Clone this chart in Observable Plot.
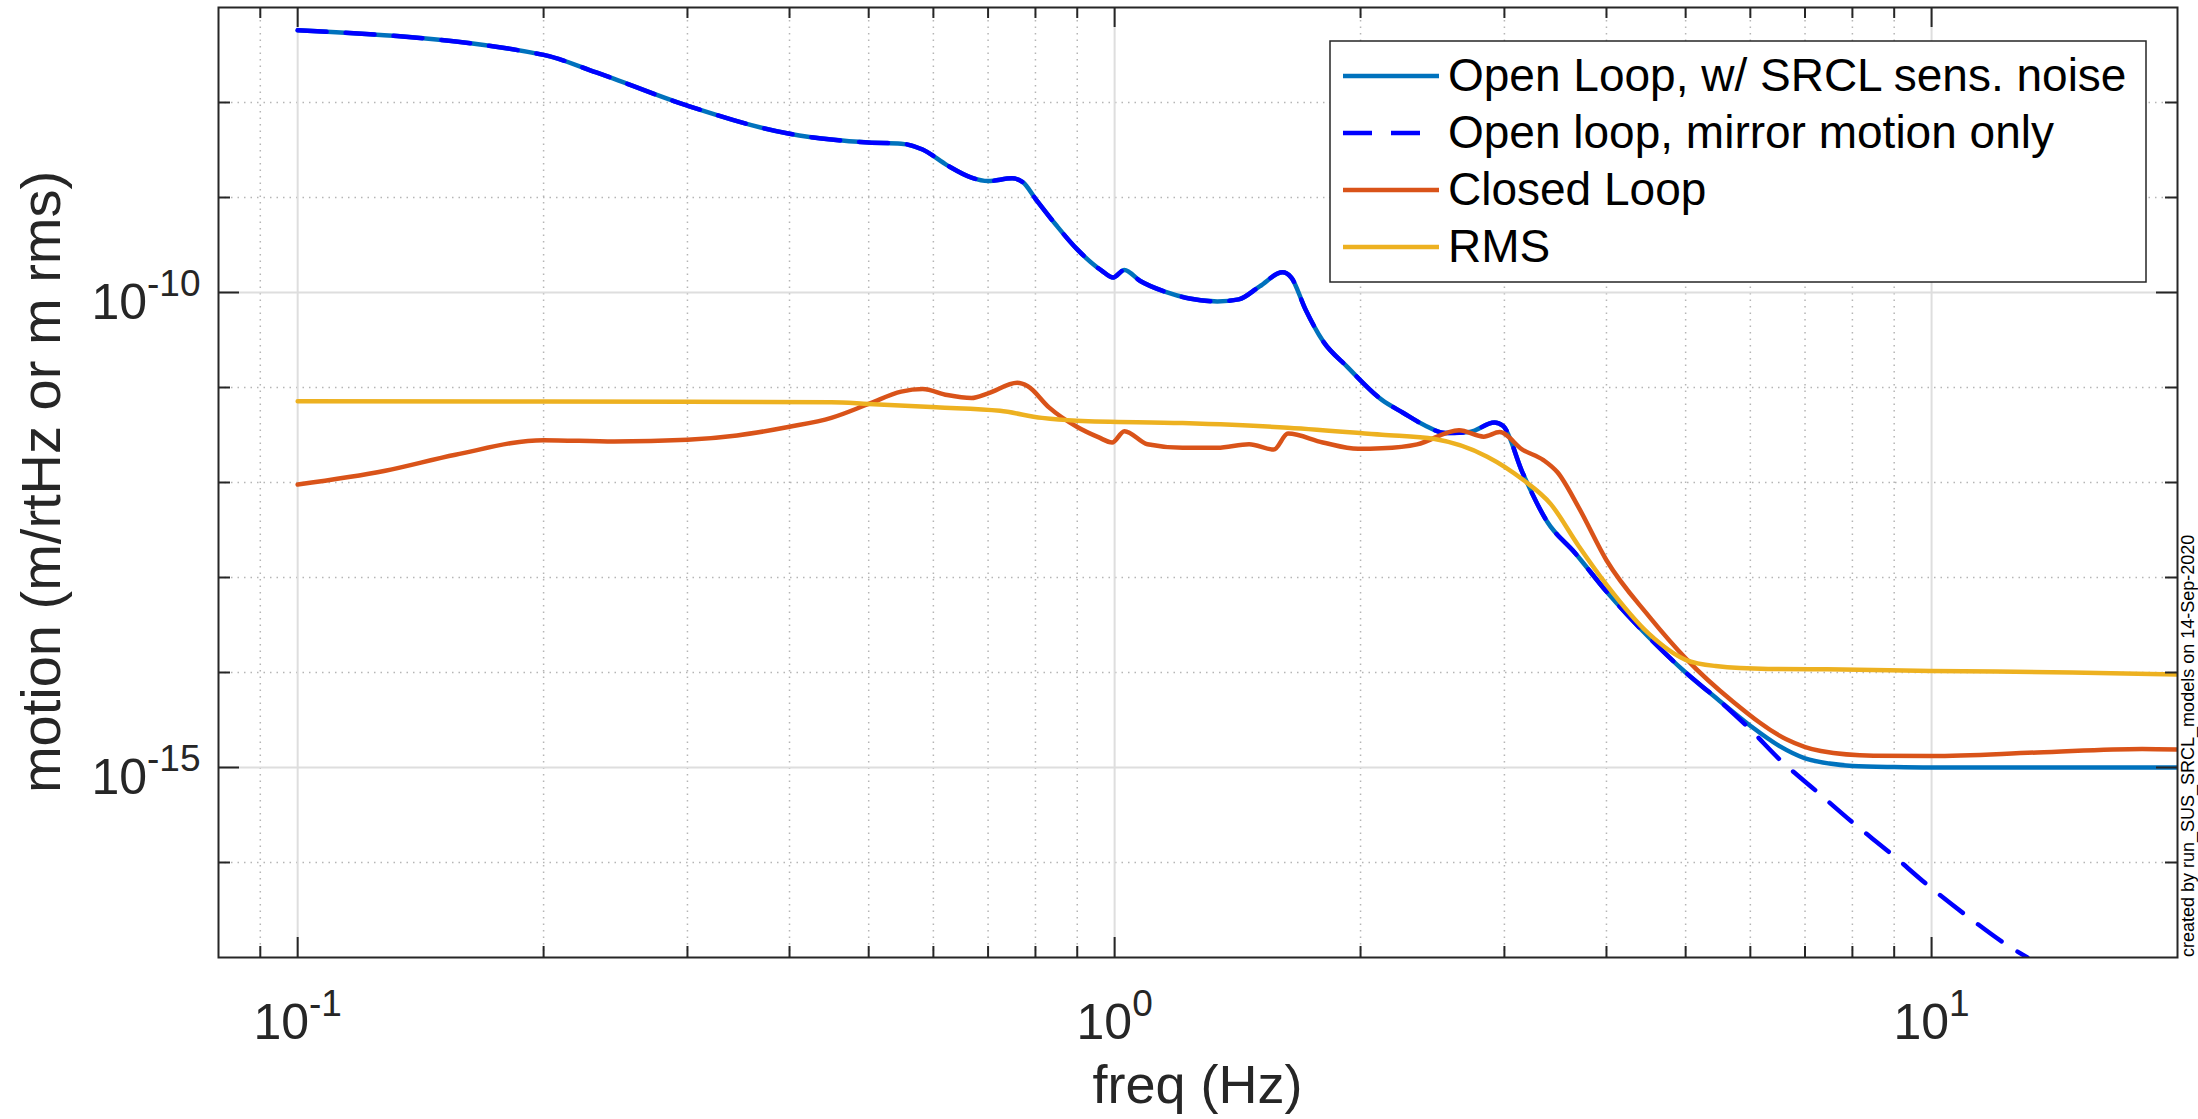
<!DOCTYPE html>
<html>
<head>
<meta charset="utf-8">
<script src="https://cdn.jsdelivr.net/npm/d3@7"></script>
<script src="https://cdn.jsdelivr.net/npm/@observablehq/plot@0.6"></script>
<style>
  html, body { margin: 0; padding: 0; background: #fff; }
  #wrap { position: relative; width: 2198px; height: 1119px; overflow: hidden; }
</style>
</head>
<body>
<div id="wrap"></div>
<script>
// ---------------- DATA ----------------
const seriesNames = [
  "Open Loop, w/ SRCL sens. noise",
  "Open loop, mirror motion only",
  "Closed Loop",
  "RMS"
];

// Open loop, with SRCL sensing noise (solid)
const freqOpenSRCL = [0.1, 0.2, 0.232, 0.3, 0.4, 0.45, 0.5, 0.548, 0.582, 0.624, 0.668, 0.7, 0.749, 0.772, 0.8, 0.848, 0.9, 0.964, 0.996, 1.028, 1.075, 1.152, 1.235, 1.336, 1.419, 1.505, 1.605, 1.645, 1.712, 1.798, 1.928, 2.124, 2.254, 2.392, 2.54, 2.72, 2.916, 2.99, 3.156, 3.383, 3.661, 4.0, 4.507, 5.0, 5.494, 6.0, 6.5, 7.0, 7.5, 8.0, 9.0, 10, 15, 20];
const openLoopSRCL = [5.75e-8, 3.17e-8, 2.07e-8, 9.25e-9, 4.69e-9, 4.07e-9, 3.79e-9, 3.69e-9, 3.20e-9, 2.18e-9, 1.62e-9, 1.49e-9, 1.59e-9, 1.45e-9, 9.70e-10, 5.13e-10, 2.84e-10, 1.70e-10, 1.44e-10, 1.73e-10, 1.32e-10, 1.02e-10, 8.63e-11, 8.05e-11, 8.47e-11, 1.16e-10, 1.63e-10, 1.44e-10, 6.67e-11, 3.10e-11, 1.64e-11, 7.41e-12, 5.43e-12, 4.03e-12, 3.31e-12, 3.40e-12, 4.28e-12, 3.93e-12, 1.28e-12, 3.89e-13, 1.81e-13, 7.11e-14, 2.35e-14, 1.00e-14, 5.08e-15, 2.75e-15, 1.70e-15, 1.25e-15, 1.10e-15, 1.04e-15, 1.01e-15, 1.0e-15, 1.0e-15, 1.0e-15];

// Open loop, mirror motion only (dashed)
const freqMirror = [0.1, 0.2, 0.232, 0.3, 0.4, 0.45, 0.5, 0.548, 0.582, 0.624, 0.668, 0.7, 0.749, 0.772, 0.8, 0.848, 0.9, 0.964, 0.996, 1.028, 1.075, 1.152, 1.235, 1.336, 1.419, 1.505, 1.605, 1.645, 1.712, 1.798, 1.928, 2.124, 2.254, 2.392, 2.54, 2.72, 2.916, 2.99, 3.156, 3.383, 3.661, 4.0, 4.507, 5.0, 5.494, 6.0, 6.52, 7.24, 8.02, 8.9, 9.92, 11.11, 12.39, 13.1];
const mirrorMotion = [5.75e-8, 3.17e-8, 2.07e-8, 9.25e-9, 4.69e-9, 4.07e-9, 3.79e-9, 3.69e-9, 3.20e-9, 2.18e-9, 1.62e-9, 1.49e-9, 1.59e-9, 1.45e-9, 9.70e-10, 5.13e-10, 2.84e-10, 1.70e-10, 1.44e-10, 1.73e-10, 1.32e-10, 1.02e-10, 8.63e-11, 8.05e-11, 8.47e-11, 1.16e-10, 1.63e-10, 1.44e-10, 6.67e-11, 3.10e-11, 1.64e-11, 7.41e-12, 5.43e-12, 4.03e-12, 3.31e-12, 3.40e-12, 4.28e-12, 3.93e-12, 1.28e-12, 3.89e-13, 1.81e-13, 7.11e-14, 2.35e-14, 1.00e-14, 5.08e-15, 2.51e-15, 1.21e-15, 5.56e-16, 2.60e-16, 1.26e-16, 5.66e-17, 2.64e-17, 1.34e-17, 1.0e-17];

// Closed loop
const freqClosed = [0.1, 0.128, 0.156, 0.2, 0.244, 0.3, 0.345, 0.4, 0.45, 0.5, 0.548, 0.582, 0.624, 0.668, 0.7, 0.76, 0.783, 0.831, 0.899, 0.955, 0.993, 1.028, 1.097, 1.211, 1.336, 1.461, 1.566, 1.63, 1.798, 1.986, 2.124, 2.346, 2.64, 2.83, 2.96, 3.156, 3.349, 3.484, 3.698, 4.0, 4.507, 5.0, 5.72, 6.63, 7.32, 8.49, 10, 13.47, 18.1, 20];
const closedLoop = [9.51e-13, 1.33e-12, 1.96e-12, 2.79e-12, 2.70e-12, 2.82e-12, 3.13e-12, 3.86e-12, 4.79e-12, 6.71e-12, 9.06e-12, 9.62e-12, 8.32e-12, 7.76e-12, 8.69e-12, 1.12e-11, 1.03e-11, 6.18e-12, 3.86e-12, 3.00e-12, 2.64e-12, 3.47e-12, 2.53e-12, 2.32e-12, 2.32e-12, 2.53e-12, 2.22e-12, 3.27e-12, 2.64e-12, 2.26e-12, 2.29e-12, 2.52e-12, 3.55e-12, 3.04e-12, 3.40e-12, 2.22e-12, 1.72e-12, 1.28e-12, 5.47e-13, 1.52e-13, 3.92e-14, 1.41e-14, 4.90e-15, 2.00e-15, 1.49e-15, 1.33e-15, 1.32e-15, 1.44e-15, 1.57e-15, 1.55e-15];

// RMS
const freqRMS = [0.1, 0.2, 0.3, 0.45, 0.5, 0.605, 0.724, 0.815, 0.899, 1.211, 1.63, 2.124, 2.465, 2.858, 3.156, 3.417, 3.698, 4.0, 4.507, 5.0, 5.44, 6.31, 7.45, 10, 14.86, 20];
const rmsMotion = [7.18e-12, 7.11e-12, 7.08e-12, 7.00e-12, 6.71e-12, 6.18e-12, 5.68e-12, 4.79e-12, 4.48e-12, 4.22e-12, 3.78e-12, 3.18e-12, 2.87e-12, 1.87e-12, 1.08e-12, 5.96e-13, 2.15e-13, 8.41e-14, 2.56e-14, 1.36e-14, 1.17e-14, 1.09e-14, 1.08e-14, 1.04e-14, 1.00e-14, 9.55e-15];

// Ticks
const xMajorTicks = [0.1, 1, 10];
const xMinorTicks = [0.09, 0.2, 0.3, 0.4, 0.5, 0.6, 0.7, 0.8, 0.9, 2, 3, 4, 5, 6, 7, 8, 9];
const yMajorTicks = [1e-15, 1e-10];
const yMinorTicks = [1e-16, 1e-14, 1e-13, 1e-12, 1e-11, 1e-9, 1e-8];

const xLabel = "freq (Hz)";
const yLabel = "motion (m/rtHz or m rms)";
const note = "created by run_SUS_SRCL_models on 14-Sep-2020";

// ---------------- LAYOUT / STYLE ----------------
const W = 2198, H = 1119;
const mL = 218, mR = 21, mT = 7, mB = 162;
const fw = W - mL - mR, fh = H - mT - mB;
const FONT = '"Liberation Sans", Arial, Helvetica, sans-serif';
const INK = "#262626";
const colors = ["#0072BD", "#0000FF", "#D95319", "#EDB120"];
const LW = 4.5;
const DASH = "29,19";

const toRows = (fs, vs) => fs.map((f, i) => ({f, v: vs[i]}));
const dOpen = toRows(freqOpenSRCL, openLoopSRCL);
const dMirror = toRows(freqMirror, mirrorMotion);
const dClosed = toRows(freqClosed, closedLoop);
const dRMS = toRows(freqRMS, rmsMotion);

const expFmt = d => "10^" + Math.round(Math.log10(d));

const minorGrid = {stroke: "#b5b5b5", strokeWidth: 1.5, strokeDasharray: "1.5,5"};
const majorGrid = {stroke: "#dedede", strokeWidth: 2};
const tickStyle = {stroke: INK, strokeWidth: 2};

const chart = Plot.plot({
  width: W, height: H,
  marginLeft: mL, marginRight: mR, marginTop: mT, marginBottom: mB,
  x: {type: "log", domain: [0.08, 20]},
  y: {type: "log", domain: [1e-17, 1e-7]},
  style: {fontFamily: FONT, background: "white", color: INK, overflow: "visible"},
  marks: [
    Plot.ruleX(xMinorTicks, minorGrid),
    Plot.ruleY(yMinorTicks, minorGrid),
    Plot.ruleX(xMajorTicks, majorGrid),
    Plot.ruleY(yMajorTicks, majorGrid),

    Plot.line(dOpen, {x: "f", y: "v", stroke: colors[0], strokeWidth: LW, curve: "monotone-x", clip: true}),
    Plot.line(dMirror, {x: "f", y: "v", stroke: colors[1], strokeWidth: LW, strokeDasharray: DASH, curve: "monotone-x", clip: true}),
    Plot.line(dClosed, {x: "f", y: "v", stroke: colors[2], strokeWidth: LW, curve: "monotone-x", clip: true}),
    Plot.line(dRMS, {x: "f", y: "v", stroke: colors[3], strokeWidth: LW, curve: "monotone-x", clip: true}),

    // inward tick marks on all four sides
    Plot.ruleX(xMajorTicks, {...tickStyle, insetTop: fh - 20}),
    Plot.ruleX(xMajorTicks, {...tickStyle, insetBottom: fh - 20}),
    Plot.ruleX(xMinorTicks, {...tickStyle, insetTop: fh - 11}),
    Plot.ruleX(xMinorTicks, {...tickStyle, insetBottom: fh - 11}),
    Plot.ruleY(yMajorTicks, {...tickStyle, insetRight: fw - 21}),
    Plot.ruleY(yMajorTicks, {...tickStyle, insetLeft: fw - 21}),
    Plot.ruleY(yMinorTicks, {...tickStyle, insetRight: fw - 12}),
    Plot.ruleY(yMinorTicks, {...tickStyle, insetLeft: fw - 12}),

    Plot.frame({stroke: INK, strokeWidth: 2}),

    Plot.axisX(xMajorTicks, {tickSize: 0, tickPadding: 81, lineAnchor: "bottom", fontSize: 50, tickFormat: expFmt, label: null}),
    Plot.axisY(yMajorTicks, {tickSize: 0, tickPadding: 18, dy: 26, lineAnchor: "bottom", fontSize: 50, tickFormat: expFmt, label: null})
  ]
});

document.getElementById("wrap").appendChild(chart);
const svg = d3.select(chart.tagName.toLowerCase() === "svg" ? chart : chart.querySelector("svg"));

// superscript exponents in tick labels
svg.selectAll("text").each(function () {
  const t = this.textContent;
  const m = /^10\^(.+)$/.exec(t);
  if (!m) return;
  const el = d3.select(this);
  el.text(null);
  el.append("tspan").text("10");
  el.append("tspan").attr("dy", -23).attr("font-size", 37).text(m[1]);
});

// axis labels
svg.append("text")
  .attr("x", mL + fw / 2).attr("y", 1103)
  .attr("text-anchor", "middle").attr("font-size", 54)
  .attr("fill", INK).attr("font-family", FONT)
  .text(xLabel);

svg.append("text")
  .attr("transform", `translate(60,${mT + fh / 2}) rotate(-90)`)
  .attr("text-anchor", "middle").attr("font-size", 56)
  .attr("fill", INK).attr("font-family", FONT)
  .text(yLabel);

svg.append("text")
  .attr("transform", `translate(2194,${mT + fh}) rotate(-90)`)
  .attr("text-anchor", "start").attr("font-size", 18)
  .attr("fill", "#000").attr("font-family", FONT)
  .text(note);

// legend
const lg = svg.append("g").attr("transform", "translate(1330,41)");
lg.append("rect").attr("width", 816).attr("height", 241)
  .attr("fill", "white").attr("stroke", INK).attr("stroke-width", 1.5);
seriesNames.forEach((name, i) => {
  const cy = 35 + i * 57;
  lg.append("line").attr("x1", 13).attr("x2", 109).attr("y1", cy).attr("y2", cy)
    .attr("stroke", colors[i]).attr("stroke-width", LW)
    .attr("stroke-dasharray", i === 1 ? DASH : null);
  lg.append("text").attr("x", 118).attr("y", cy + 15)
    .attr("text-anchor", "start")
    .attr("font-size", 46).attr("fill", "#000").attr("font-family", FONT)
    .text(name);
});
</script>
</body>
</html>
